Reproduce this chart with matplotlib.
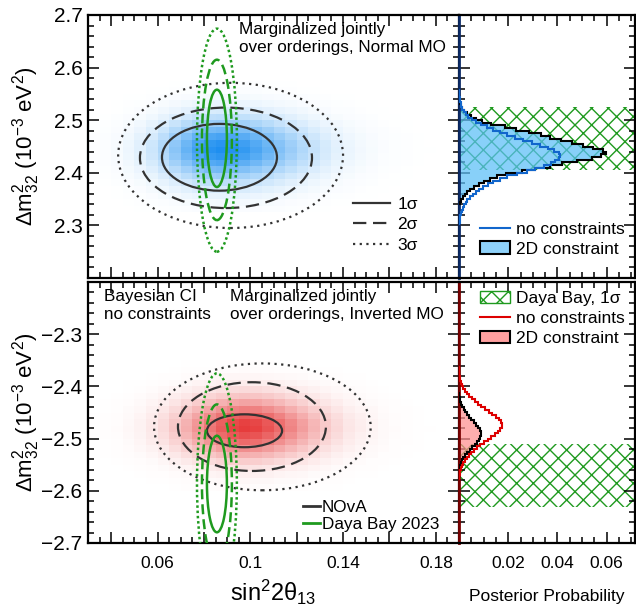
import numpy as np
import matplotlib
matplotlib.use("Agg")
import matplotlib.pyplot as plt
from matplotlib.patches import Ellipse, Patch
from matplotlib.lines import Line2D
from matplotlib.colors import LinearSegmentedColormap, PowerNorm
from matplotlib.ticker import MultipleLocator, FixedLocator, FixedFormatter

plt.rcParams['font.family'] = ['Liberation Sans', 'DejaVu Sans']
plt.rcParams['mathtext.fontset'] = 'custom'
plt.rcParams['mathtext.rm'] = 'Liberation Sans'
plt.rcParams['mathtext.it'] = 'Liberation Sans:italic'
plt.rcParams['hatch.linewidth'] = 1.0

# ---------------- data ----------------
s13_lim = [0.03, 0.19]
prob_lim = [0.0, 0.0715]
dm_lim_no = [2.2, 2.7]
dm_lim_io = [-2.7, -2.2]

s13_ticks = [0.04, 0.06, 0.08, 0.10, 0.12, 0.14, 0.16, 0.18]
s13_labels = ["", "0.06", "", "0.1", "", "0.14", "", "0.18"]
prob_ticks = [0.0, 0.02, 0.04, 0.06]
prob_labels = ["", "0.02", "0.04", "0.06"]
dm_ticks_no = [2.3, 2.4, 2.5, 2.6, 2.7]
dm_ticks_io = [-2.7, -2.6, -2.5, -2.4, -2.3]

# 2D posterior shading, built from its two profiles (bin width 0.005 in x, 0.0125 in y)
hm_x_start = 0.03
hm_x_step = 0.005
hm_y_step = 0.0125
no_x_prof = [0.01, 0.02, 0.04, 0.08, 0.14, 0.23, 0.36, 0.52, 0.68, 0.84, 0.96, 1.00,
             0.97, 0.90, 0.80, 0.68, 0.56, 0.45, 0.35, 0.26, 0.19, 0.13, 0.09, 0.06,
             0.04, 0.025, 0.015, 0.01, 0.006, 0.004, 0.002, 0.001]
no_y_start = 2.325
no_y_prof = [0.03, 0.06, 0.11, 0.19, 0.30, 0.45, 0.62, 0.79, 0.93, 1.00,
             0.95, 0.82, 0.64, 0.46, 0.30, 0.18, 0.10, 0.05, 0.02, 0.01]
io_x_prof = [0.005, 0.01, 0.02, 0.04, 0.07, 0.12, 0.19, 0.29, 0.41, 0.55, 0.70, 0.84,
             0.95, 1.00, 0.97, 0.88, 0.76, 0.63, 0.50, 0.38, 0.28, 0.20, 0.13, 0.09,
             0.06, 0.035, 0.02, 0.012, 0.007, 0.004, 0.002, 0.001]
io_y_start = -2.6
io_y_prof = [0.02, 0.04, 0.08, 0.15, 0.26, 0.41, 0.58, 0.76, 0.90, 1.00,
             0.97, 0.84, 0.66, 0.47, 0.31, 0.19, 0.10, 0.05, 0.02, 0.01]

# NOvA credible contours (1, 2, 3 sigma): centre, full width, full height
nova_no_cx = [0.0867, 0.0895, 0.0915]
nova_no_cy = [2.4295, 2.4285, 2.433]
nova_no_w = [0.0496, 0.0742, 0.097]
nova_no_h = [0.127, 0.191, 0.276]
nova_io_cx = [0.0975, 0.1007, 0.1052]
nova_io_cy = [-2.485, -2.477, -2.4775]
nova_io_w = [0.0324, 0.0638, 0.0934]
nova_io_h = [0.063, 0.170, 0.243]

# Daya Bay 2023 contours (1, 2, 3 sigma)
db_cx = [0.0856, 0.0856, 0.0856]
db_no_cy = [2.4655, 2.4625, 2.462]
db_io_cy = [-2.587, -2.587, -2.587]
db_w = [0.0086, 0.0129, 0.0172]
db_h = [0.185, 0.305, 0.424]

# Daya Bay 1 sigma band on dm32
db_dm_no = 2.466
db_dm_io = -2.571
db_dm_err = 0.060

# 1D posteriors (bin width 0.005)
h_step = 0.005
no_free_start = 2.300
no_free = [0.0002, 0.0003, 0.0004, 0.0006, 0.0009, 0.0012, 0.0016, 0.0021, 0.0027, 0.0034,
           0.0043, 0.0055, 0.0068, 0.0083, 0.0099, 0.0118, 0.0140, 0.0165, 0.0195, 0.0235,
           0.0275, 0.0310, 0.0345, 0.0372, 0.0392, 0.0405, 0.0412, 0.0405, 0.0385, 0.0360,
           0.0330, 0.0295, 0.0262, 0.0228, 0.0195, 0.0165, 0.0138, 0.0112, 0.0090, 0.0070,
           0.0052, 0.0038, 0.0028, 0.0020, 0.0014, 0.0010, 0.0007, 0.0005, 0.0003, 0.0002,
           0.0001, 0.0]
no_2d_start = 2.340
no_2d = [0.0003, 0.0008, 0.0015, 0.0024, 0.0034, 0.0046, 0.0062, 0.0080, 0.0100, 0.0125,
         0.0155, 0.0190, 0.0255, 0.0310, 0.0370, 0.0420, 0.0480, 0.0540, 0.0575, 0.0597,
         0.0585, 0.0545, 0.0505, 0.0460, 0.0415, 0.0370, 0.0335, 0.0285, 0.0230, 0.0185,
         0.0130, 0.0092, 0.0068, 0.0048, 0.0034, 0.0022, 0.0013, 0.0007, 0.0003, 0.0001]
io_free_start = -2.580
io_free = [0.0001, 0.0002, 0.0004, 0.0006, 0.0009, 0.0013, 0.0018, 0.0024, 0.0031, 0.0039,
           0.0049, 0.0060, 0.0072, 0.0086, 0.0101, 0.0117, 0.0132, 0.0146, 0.0158, 0.0168,
           0.0174, 0.0175, 0.0171, 0.0162, 0.0150, 0.0136, 0.0121, 0.0106, 0.0091, 0.0077,
           0.0064, 0.0052, 0.0041, 0.0032, 0.0024, 0.0017, 0.0012, 0.0008, 0.0005, 0.0003,
           0.0002, 0.0001, 0.0001, 0.0]
io_2d_start = -2.565
io_2d = [0.0001, 0.0002, 0.0004, 0.0007, 0.0011, 0.0017, 0.0025, 0.0034, 0.0044, 0.0054,
         0.0064, 0.0073, 0.0081, 0.0087, 0.0091, 0.0090, 0.0085, 0.0078, 0.0069, 0.0060,
         0.0050, 0.0041, 0.0032, 0.0025, 0.0019, 0.0014, 0.0010, 0.0006, 0.0004, 0.0002,
         0.0001]

# ---------------- style ----------------
W, H = 636, 605
fig = plt.figure(figsize=(W / 100, H / 100), dpi=100)


def box(x0, y0, x1, y1):
    return [x0 / W, 1 - y1 / H, (x1 - x0) / W, (y1 - y0) / H]


ax_no = fig.add_axes(box(88, 15, 459, 278))
axr_no = fig.add_axes(box(459, 15, 635, 278))
ax_io = fig.add_axes(box(88, 282, 459, 543))
axr_io = fig.add_axes(box(459, 282, 635, 543))

green = '#1f9a1f'
dark = '#333333'
cm_blue = LinearSegmentedColormap.from_list('b', ['#ffffff', '#1e8ff0'])
cm_red = LinearSegmentedColormap.from_list('r', ['#ffffff', '#e63c3c'])
sig_styles_k = ['-', (0, (6, 3)), (0, (1, 2))]
sig_styles_g = ['-', (0, (4, 2)), (0, (1, 1.1))]


def edges(start, step, n):
    return start + step * np.arange(n + 1)


def main_panel(ax, xprof, ystart, yprof, cmap, ncx, ncy, nw, nh, dcy, ylim, yticks):
    xe = edges(hm_x_start, hm_x_step, len(xprof))
    ye = edges(ystart, hm_y_step, len(yprof))
    z = np.outer(yprof, xprof)
    ax.pcolormesh(xe, ye, z, cmap=cmap, norm=PowerNorm(1.0, vmin=0, vmax=1), zorder=0)
    for i in range(3):
        ax.add_patch(Ellipse((ncx[i], ncy[i]), nw[i], nh[i], fill=False, ec=dark,
                             lw=1.6, ls=sig_styles_k[i], zorder=2))
    for i in range(3):
        ax.add_patch(Ellipse((db_cx[i], dcy[i]), db_w[i], db_h[i], fill=False, ec=green,
                             lw=1.8, ls=sig_styles_g[i], zorder=3))
    ax.set_xlim(s13_lim)
    ax.set_ylim(ylim)
    ax.xaxis.set_major_locator(FixedLocator(s13_ticks))
    ax.xaxis.set_major_formatter(FixedFormatter(s13_labels))
    ax.xaxis.set_minor_locator(MultipleLocator(0.005))
    ax.yaxis.set_major_locator(FixedLocator(yticks))
    ax.yaxis.set_minor_locator(MultipleLocator(0.02))
    ax.set_ylabel('Δm$_{32}^{2}$ (10$^{-3}$ eV$^{2}$)', fontsize=16)
    ax.yaxis.set_label_coords(-0.125, 0.5)


def side_panel(ax, band_c, s_free, free, s_2d, h2d, line_c, fill_c, spine_c, ylim, yticks):
    ax.axhspan(band_c - db_dm_err, band_c + db_dm_err, fc='none', ec=green, hatch='xx',
               lw=0, zorder=1)
    ax.stairs(h2d, edges(s_2d, h_step, len(h2d)), orientation='horizontal', fill=True,
              color=fill_c, alpha=0.72, zorder=2)
    ax.stairs(h2d, edges(s_2d, h_step, len(h2d)), orientation='horizontal', color='black',
              lw=1.5, zorder=3)
    ax.stairs(free, edges(s_free, h_step, len(free)), orientation='horizontal', color=line_c,
              lw=1.5, zorder=4)
    ax.set_xlim(prob_lim)
    ax.set_ylim(ylim)
    ax.xaxis.set_major_locator(FixedLocator(prob_ticks))
    ax.xaxis.set_major_formatter(FixedFormatter(prob_labels))
    ax.xaxis.set_minor_locator(MultipleLocator(0.005))
    ax.yaxis.set_major_locator(FixedLocator(yticks))
    ax.yaxis.set_minor_locator(MultipleLocator(0.02))
    ax.spines['left'].set_color(spine_c)
    ax.spines['left'].set_linewidth(2)


main_panel(ax_no, no_x_prof, no_y_start, no_y_prof, cm_blue, nova_no_cx, nova_no_cy,
           nova_no_w, nova_no_h, db_no_cy, dm_lim_no, dm_ticks_no)
main_panel(ax_io, io_x_prof, io_y_start, io_y_prof, cm_red, nova_io_cx, nova_io_cy,
           nova_io_w, nova_io_h, db_io_cy, dm_lim_io, dm_ticks_io)
side_panel(axr_no, db_dm_no, no_free_start, no_free, no_2d_start, no_2d, '#1166cc',
           '#5bbef8', '#0b2a66', dm_lim_no, dm_ticks_no)
side_panel(axr_io, db_dm_io, io_free_start, io_free, io_2d_start, io_2d, '#dd0000',
           '#ff8f8f', '#7a0000', dm_lim_io, dm_ticks_io)

for ax in [ax_no, axr_no, ax_io, axr_io]:
    ax.tick_params(which='both', direction='in', top=True, right=True, width=1.1)
    ax.tick_params(which='major', length=8)
    ax.tick_params(which='minor', length=4)
    ax.tick_params(axis='y', labelsize=15, pad=4)
    ax.tick_params(axis='x', labelsize=12.5, pad=9)
    for s in ['top', 'bottom', 'right']:
        ax.spines[s].set_linewidth(1.6)
    if ax in (ax_no, ax_io):
        ax.spines['left'].set_linewidth(1.6)
ax_no.tick_params(labelbottom=False)
axr_no.tick_params(labelbottom=False, labelleft=False)
axr_io.tick_params(labelleft=False)

ax_io.set_xlabel('sin$^{2}$2θ$_{13}$', fontsize=17, labelpad=5)
axr_io.set_xlabel('Posterior Probability', fontsize=12.5, labelpad=13)

# ---------------- texts and legends ----------------
txt = dict(fontsize=12.3, va='top', ha='left', linespacing=1.25)
ax_no.text(0.407, 0.975, 'Marginalized jointly\nover orderings, Normal MO',
           transform=ax_no.transAxes, **txt)
ax_io.text(0.043, 0.975, 'Bayesian CI\nno constraints', transform=ax_io.transAxes, **txt)
ax_io.text(0.383, 0.975, 'Marginalized jointly\nover orderings, Inverted MO',
           transform=ax_io.transAxes, **txt)

sig_handles = [Line2D([], [], color=dark, lw=1.6, ls=s) for s in sig_styles_k]
ax_no.legend(sig_handles, ['1σ', '2σ', '3σ'], loc='upper left', bbox_to_anchor=(0.715, 0.31),
             frameon=False, fontsize=12.5, handlelength=2.1, handletextpad=0.45,
             labelspacing=0.32, borderpad=0, borderaxespad=0)

exp_handles = [Line2D([], [], color=dark, lw=2), Line2D([], [], color=green, lw=2)]
ax_io.legend(exp_handles, ['NOvA', 'Daya Bay 2023'], loc='upper left',
             bbox_to_anchor=(0.58, 0.165), frameon=False, fontsize=12.3, handlelength=1.0,
             handletextpad=0.1, labelspacing=0.12, borderpad=0, borderaxespad=0)

axr_no.legend([Line2D([], [], color='#1166cc', lw=1.5),
               Patch(fc='#8fd2fa', ec='black', lw=1.5)],
              ['no constraints', '2D constraint'], loc='upper left',
              bbox_to_anchor=(0.12, 0.215), frameon=False, fontsize=12.5, handlelength=1.7,
              handletextpad=0.35, labelspacing=0.28, borderpad=0, borderaxespad=0)

axr_io.legend([Patch(fc='white', ec=green, hatch='xx', lw=1),
               Line2D([], [], color='#dd0000', lw=1.5),
               Patch(fc='#ffa0a0', ec='black', lw=1.5)],
              ['Daya Bay, 1σ', 'no constraints', '2D constraint'], loc='upper left',
              bbox_to_anchor=(0.12, 0.965), frameon=False, fontsize=12.5, handlelength=1.7,
              handletextpad=0.35, labelspacing=0.28, borderpad=0, borderaxespad=0)

fig.savefig('out.png', dpi=100)
